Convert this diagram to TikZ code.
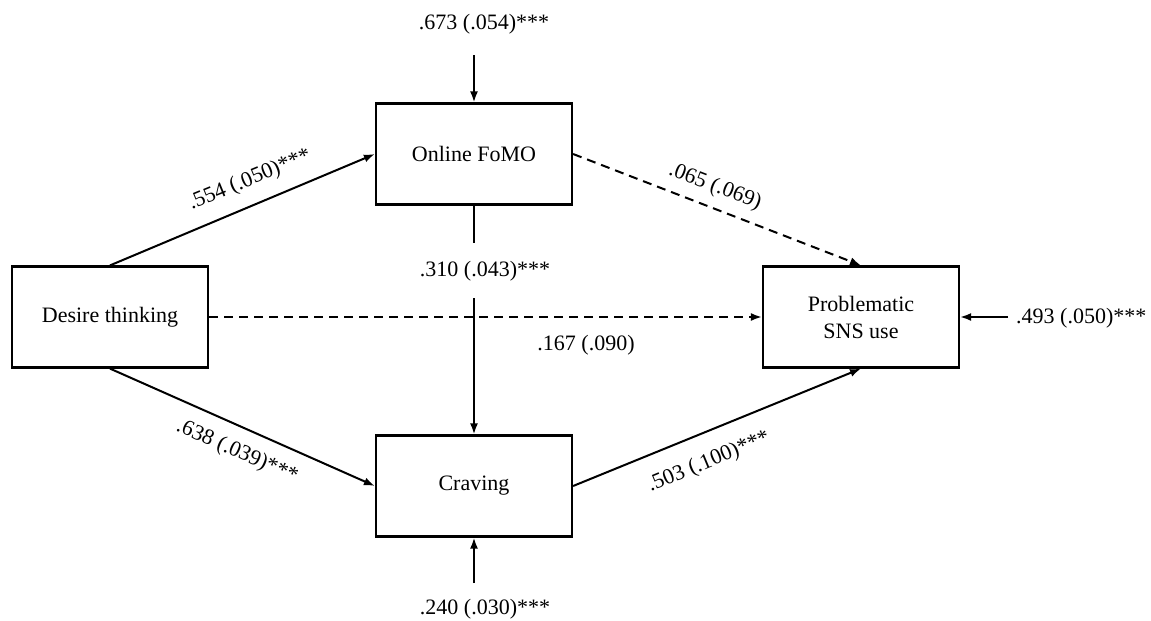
\documentclass[tikz,border=0pt]{standalone}
\usepackage{fontspec}
\setmainfont{Liberation Serif}
\usetikzlibrary{arrows.meta}
\begin{document}
\begin{tikzpicture}[x=1pt,y=-1pt,
  box/.style={draw, line width=2.2pt, minimum width=196pt, minimum height=101pt, inner sep=0pt, align=center, font=\fontsize{22}{27}\selectfont},
  path/.style={line width=2pt, -{Latex[length=11pt,width=8pt]}},
  nsig/.style={path, dash pattern=on 9pt off 6pt},
  plain/.style={line width=2pt},
  coef/.style={font=\fontsize{22}{26}\selectfont, inner sep=0pt}]
\useasboundingbox (0,0) rectangle (1151,621);

% variables
\node[box] (fomo) at (474,154) {Online FoMO};
\node[box] (desire) at (110,317) {Desire thinking};
\node[box] (sns) at (861,317) {Problematic\\SNS use};
\node[box] (craving) at (474,486) {Craving};

% residual variances
\node[coef] (e1) at (484,24) {.673 (.054)***};
\coordinate (e1s) at (474,55);
\draw[path] (e1s) -- (fomo.north);
\node[coef] (e2) at (485,609) {.240 (.030)***};
\coordinate (e2s) at (474,583);
\draw[path] (e2s) -- (craving.south);
\node[coef, anchor=west] (e3) at (1016,318) {.493 (.050)***};
\coordinate (e3s) at (1008,317);
\draw[path] (e3s) -- (sns.east);

% structural paths
\draw[path] (desire.north) -- (fomo.west);
\draw[path] (desire.south) -- (craving.west);
\draw[nsig] (desire.east) -- (sns.west);
\draw[nsig] (fomo.east) -- (sns.north);
\draw[path] (craving.east) -- (sns.south);

\node[coef] (l310) at (485,271) {.310 (.043)***};
\coordinate (g1) at (474,243);
\coordinate (g2) at (474,298);
\draw[plain] (fomo.south) -- (g1);
\draw[path] (g2) -- (craving.north);

% coefficients
\node[coef, rotate=22.4] (l554) at (250,180) {.554 (.050)***};
\node[coef, rotate=-23.7] (l638) at (237,452) {.638 (.039)***};
\node[coef, rotate=-21] (l065) at (715,187) {.065 (.069)};
\node[coef, rotate=22.5] (l503) at (709,462) {.503 (.100)***};
\node[coef] (l167) at (586,345) {.167 (.090)};
\end{tikzpicture}
\end{document}
